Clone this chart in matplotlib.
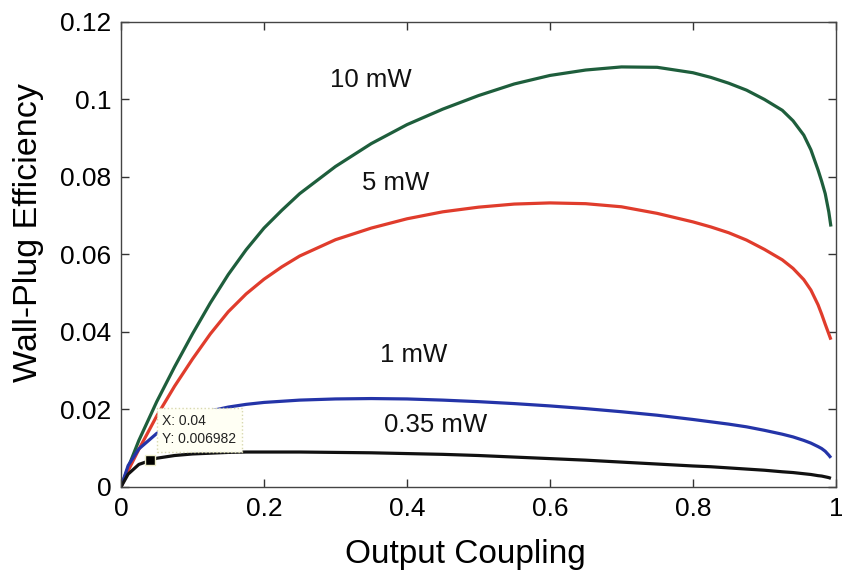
import matplotlib
matplotlib.use("Agg")
import matplotlib.pyplot as plt

plt.rcParams['font.family'] = ['Liberation Sans', 'DejaVu Sans']

# output coupling sample points
coupling = [0, 0.01, 0.025, 0.05, 0.075, 0.1, 0.125, 0.15, 0.175, 0.2, 0.225,
            0.25, 0.3, 0.35, 0.4, 0.45, 0.5, 0.55, 0.6, 0.65, 0.7,
            0.75, 0.8, 0.825, 0.85, 0.875, 0.9, 0.925, 0.94, 0.955, 0.965, 0.975,
            0.98, 0.985, 0.99, 0.993]

eff_10mw = [0, 0.0050, 0.0120, 0.0220, 0.0310, 0.0395, 0.0475, 0.0548, 0.0612, 0.0668, 0.0714,
            0.0757, 0.0827, 0.0886, 0.0935, 0.0975, 0.1010, 0.1040, 0.1062, 0.1076, 0.1084,
            0.1083, 0.1069, 0.1057, 0.1042, 0.1024, 0.1000, 0.0972, 0.0945, 0.0908, 0.0870, 0.0818,
            0.0789, 0.0757, 0.0710, 0.0672]
eff_5mw = [0, 0.0042, 0.0097, 0.0183, 0.0260, 0.0330, 0.0395, 0.0452, 0.0498, 0.0536, 0.0568,
           0.0596, 0.0638, 0.0668, 0.0692, 0.0710, 0.0722, 0.0730, 0.0733, 0.0731, 0.0723,
           0.0706, 0.0684, 0.0671, 0.0656, 0.0637, 0.0613, 0.0586, 0.0564, 0.0535, 0.0508, 0.0470,
           0.0446, 0.0420, 0.0395, 0.0380]
eff_1mw = [0, 0.0055, 0.0098, 0.0138, 0.0165, 0.0183, 0.0196, 0.0206, 0.0213, 0.0218, 0.0221,
           0.0224, 0.0227, 0.0228, 0.0227, 0.0224, 0.0220, 0.0215, 0.0209, 0.0202, 0.0194,
           0.0185, 0.0174, 0.0168, 0.0162, 0.0155, 0.0146, 0.0136, 0.0129, 0.0120, 0.0113, 0.0104,
           0.0099, 0.0092, 0.0082, 0.0075]
eff_035mw = [0, 0.0033, 0.0058, 0.0074, 0.0081, 0.0085, 0.0087, 0.0089, 0.0090, 0.0090, 0.0090,
             0.0090, 0.0089, 0.0088, 0.0086, 0.0084, 0.0081, 0.0077, 0.0073, 0.0069, 0.0064,
             0.0059, 0.0054, 0.0052, 0.0049, 0.0046, 0.0043, 0.0039, 0.0037, 0.0034, 0.0032, 0.0029,
             0.0028, 0.0026, 0.0024, 0.0022]

labels = ["10 mW", "5 mW", "1 mW", "0.35 mW"]
label_pos = [(0.35, 0.105), (0.384, 0.0785), (0.41, 0.034), (0.44, 0.016)]
colors = ["#1e5e3c", "#e03c2c", "#2434a8", "#111111"]

tip_x, tip_y = 0.04, 0.006982

fig = plt.figure(figsize=(8.42, 5.71), dpi=100)
ax = fig.add_axes([0.1437, 0.1473, 0.8491, 0.8142])

for ys, c in zip([eff_10mw, eff_5mw, eff_1mw, eff_035mw], colors):
    ax.plot(coupling, ys, color=c, lw=2.3, solid_capstyle='butt', solid_joinstyle='round')

for lab, (lx, ly) in zip(labels, label_pos):
    ax.text(lx, ly, lab, fontsize=18.5, ha='center', va='center', color='#111111')

# data tip
ax.plot([tip_x], [tip_y], marker='s', ms=7, color='black', mec='#eeeecc', mew=1, zorder=5)
ax.annotate("X: 0.04\nY: 0.006982", xy=(tip_x, tip_y), xytext=(9, 10),
            textcoords='offset points', ha='left', va='bottom', fontsize=10,
            color='#222222', linespacing=1.4, zorder=6,
            bbox=dict(boxstyle='square,pad=0.4', fc='#fffff4', ec='#d8d8b0', ls=':', lw=1))

ax.set_xlim(0, 1)
ax.set_ylim(0, 0.12)
ax.set_xticks([0, 0.2, 0.4, 0.6, 0.8, 1])
ax.set_xticklabels(["0", "0.2", "0.4", "0.6", "0.8", "1"])
ax.set_yticks([0, 0.02, 0.04, 0.06, 0.08, 0.1, 0.12])
ax.set_yticklabels(["0", "0.02", "0.04", "0.06", "0.08", "0.1", "0.12"])
ax.tick_params(direction='in', top=True, right=True, length=6, width=1,
               labelsize=19, pad=7, color='#333333')
for s in ax.spines.values():
    s.set_color('#444444')
    s.set_linewidth(1)

ax.set_xlabel("Output Coupling", fontsize=24)
ax.set_ylabel("Wall-Plug Efficiency", fontsize=24.5)
ax.xaxis.set_label_coords(0.481, -0.113)
ax.yaxis.set_label_coords(-0.107, 0.548)

fig.savefig("out.png", dpi=100)
